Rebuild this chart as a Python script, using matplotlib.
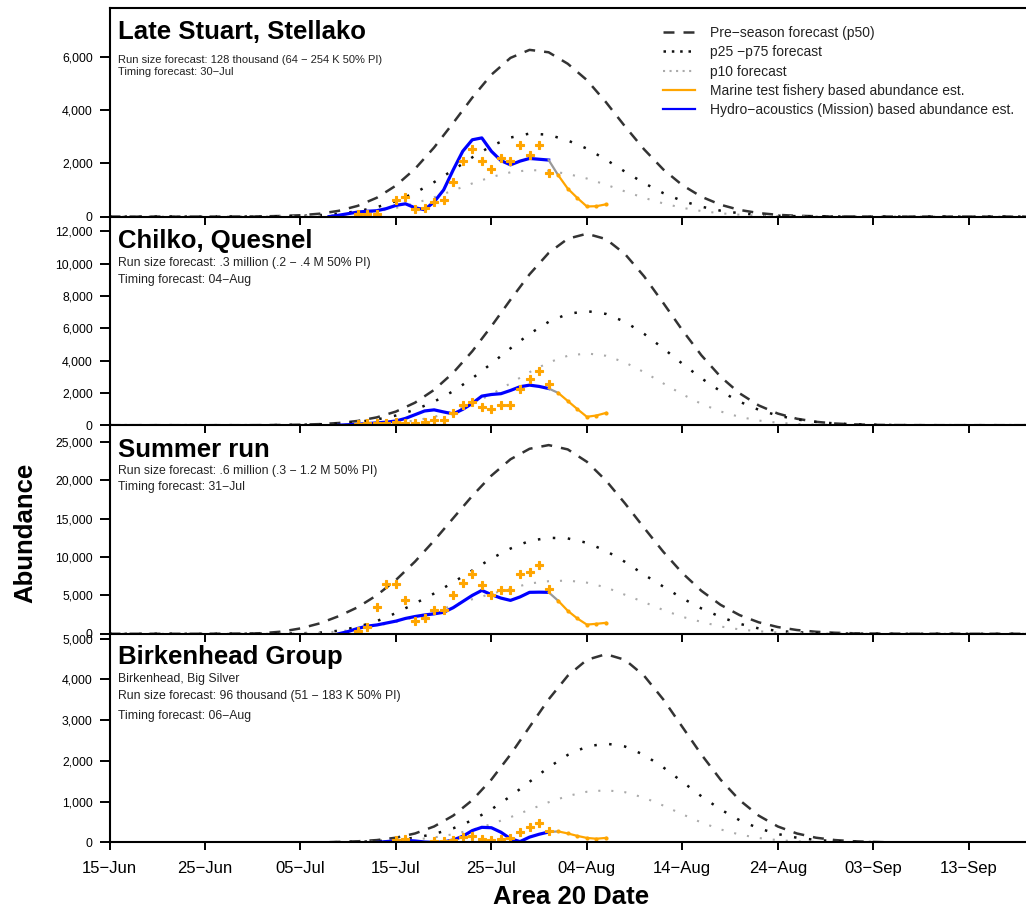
import matplotlib
matplotlib.use("Agg")
import matplotlib.pyplot as plt
from matplotlib.lines import Line2D
from matplotlib.ticker import FuncFormatter
import numpy as np

plt.rcParams['font.family'] = ['Liberation Sans', 'DejaVu Sans']
plt.rcParams['lines.scale_dashes'] = False

# x axis: days after 15-Jun
tick_days = [0, 10, 20, 30, 40, 50, 60, 70, 80, 90]
tick_labels = ["15\u2212Jun", "25\u2212Jun", "05\u2212Jul", "15\u2212Jul", "25\u2212Jul",
               "04\u2212Aug", "14\u2212Aug", "24\u2212Aug", "03\u2212Sep", "13\u2212Sep"]

# forecast curves, every 2 days from 15-Jun
fc_days = list(range(0, 97, 2))

# Late Stuart, Stellako
ls_p50 = [0, 0, 0, 0, 0, 0, 0, 3, 9, 23, 51, 108, 216, 403, 707, 1162, 1790, 2590, 3510, 4460,
          5320, 5950, 6250, 6160, 5730, 5120, 4290, 3380, 2520, 1770, 1180, 745, 445, 250, 132,
          66, 31, 14, 6, 2, 0, 0, 0, 0, 0, 0, 0, 0, 0]
ls_p25 = [0, 0, 0, 0, 0, 0, 0, 1, 4, 11, 25, 54, 108, 201, 352, 579, 891, 1290, 1748, 2221,
          2649, 2963, 3113, 3068, 2854, 2550, 2136, 1683, 1255, 881, 588, 371, 222, 125, 66,
          33, 15, 7, 3, 1, 0, 0, 0, 0, 0, 0, 0, 0, 0]
ls_p10 = [0, 0, 0, 0, 0, 0, 0, 1, 3, 6, 14, 30, 60, 112, 197, 324, 499, 723, 979, 1244,
          1484, 1660, 1744, 1719, 1599, 1428, 1197, 943, 703, 494, 329, 208, 124, 70, 37,
          18, 9, 4, 2, 1, 0, 0, 0, 0, 0, 0, 0, 0, 0]

# Chilko, Quesnel
cq_p50 = [0, 0, 0, 0, 0, 0, 0, 0, 6, 14, 31, 67, 136, 264, 485, 844, 1394, 2185, 3246, 4577,
          6122, 7764, 9340, 10660, 11540, 11850, 11520, 10590, 9210, 7570, 5885, 4325, 3004,
          1973, 1225, 720, 400, 210, 104, 49, 22, 9, 4, 0, 0, 0, 0, 0, 0]
cq_p25 = [0, 0, 0, 0, 0, 0, 0, 0, 0, 12, 27, 56, 109, 202, 356, 598, 955, 1454, 2105, 2903,
          3809, 4757, 5653, 6396, 6888, 7060, 6888, 6396, 5653, 4757, 3809, 2903, 2105, 1454,
          955, 598, 356, 202, 109, 56, 27, 12, 0, 0, 0, 0, 0, 0, 0]
cq_p10 = [0, 0, 0, 0, 0, 0, 0, 0, 0, 0, 0, 6, 15, 35, 75, 152, 289, 513, 851, 1320,
          1913, 2591, 3281, 3883, 4297, 4444, 4297, 3883, 3281, 2591, 1913, 1320, 851, 513,
          289, 152, 75, 35, 15, 6, 0, 0, 0, 0, 0, 0, 0, 0, 0]

# Summer run
sr_p50 = [0, 0, 0, 0, 0, 5, 15, 35, 80, 280, 700, 1350, 2290, 3457, 5020, 7004, 9400, 12130,
          15050, 17960, 20590, 22720, 24090, 24570, 24010, 22400, 19960, 16970, 13790, 10690,
          7915, 5595, 3777, 2433, 1497, 880, 493, 265, 136, 66, 31, 14, 6, 2, 0, 0, 0, 0, 0]
sr_p25 = [0, 0, 0, 0, 0, 0, 0, 5, 10, 20, 60, 150, 400, 900, 1650, 2700, 3950, 5250, 6700,
          8250, 9800, 11100, 12100, 12500, 12420, 11850, 10800, 9360, 7700, 6150, 4620, 3300,
          2200, 1300, 700, 380, 200, 100, 50, 20, 8, 0, 0, 0, 0, 0, 0, 0, 0]
sr_p10 = [0, 0, 0, 0, 0, 0, 0, 0, 0, 20, 50, 130, 300, 600, 1050, 1550, 2170, 2900, 3680,
          4500, 5200, 5900, 6550, 6850, 6930, 6660, 6040, 5080, 4120, 3100, 2210, 1550, 950,
          570, 330, 180, 90, 45, 20, 8, 0, 0, 0, 0, 0, 0, 0, 0, 0]

# Birkenhead Group
bh_p50 = [0, 0, 0, 0, 0, 0, 0, 0, 0, 0, 0, 0, 12, 27, 57, 115, 219, 391, 657, 1037, 1542,
          2156, 2835, 3511, 4090, 4481, 4620, 4481, 4090, 3511, 2835, 2156, 1542, 1037, 657,
          391, 219, 115, 57, 27, 12, 0, 0, 0, 0, 0, 0, 0, 0]
bh_p25 = [0, 0, 0, 0, 0, 0, 0, 0, 0, 0, 0, 0, 6, 14, 30, 60, 115, 205, 345, 544, 810,
          1132, 1488, 1843, 2147, 2353, 2426, 2353, 2147, 1843, 1488, 1132, 810, 544, 345,
          205, 115, 60, 30, 14, 6, 0, 0, 0, 0, 0, 0, 0, 0]
bh_p10 = [0, 0, 0, 0, 0, 0, 0, 0, 0, 0, 0, 0, 4, 10, 20, 38, 70, 122, 200, 309, 450,
          619, 804, 986, 1140, 1243, 1280, 1232, 1097, 905, 691, 488, 319, 193, 108,
          56, 27, 12, 5, 0, 0, 0, 0, 0, 0, 0, 0, 0, 0]

# hydro-acoustic (Mission) estimates, daily
ls_hydro_days = list(range(23, 47))
ls_hydro = [0, 50, 110, 170, 200, 220, 300, 420, 480, 330, 260, 550, 1000, 1750, 2450, 2880,
            2950, 2450, 2100, 1940, 2080, 2180, 2150, 2120]
cq_hydro_days = list(range(24, 47))
cq_hydro = [0, 30, 60, 100, 140, 190, 260, 420, 650, 880, 950, 820, 700, 980, 1350, 1800,
            1900, 1950, 2150, 2380, 2480, 2400, 2270]
sr_hydro_days = list(range(24, 47))
sr_hydro = [0, 300, 700, 1000, 1150, 1400, 1650, 2000, 2250, 2450, 2600, 2800, 3400, 4200,
            5000, 5650, 5100, 4650, 4350, 4800, 5400, 5420, 5400]
bh_hydro_days = list(range(28, 47))
bh_hydro = [0, 20, 40, 50, 35, 10, 0, 10, 60, 150, 290, 370, 360, 250, 90, 20, 130, 200, 255]

# marine test fishery line after the hydro series ends
mt_line_days = [47, 48, 49, 50, 51, 52]
ls_mt_line = [1550, 1050, 700, 380, 390, 460]
cq_mt_line = [2000, 1500, 1000, 520, 600, 760]
sr_mt_line = [4300, 3000, 2000, 1200, 1300, 1430]
bh_mt_line = [270, 220, 160, 110, 90, 110]

# marine test fishery based abundance points
mt_days = list(range(26, 47))
ls_mt = [100, 100, 100, np.nan, 620, 720, 270, 320, 530, 610, 1310, 2100, 2550, 2100, 1800,
         2200, 2080, 2700, 2300, 2700, 1640]
cq_mt = [80, 120, 150, 150, 180, 150, 150, 200, 300, 320, 760, 1240, 1440, 1100, 1030, 1240,
         1240, 2210, 2830, 3360, 2580]
sr_mt = [340, 860, 3550, 6500, 6420, 4430, 1730, 2080, 3160, 3160, 5050, 6610, 7780, 6350,
         5100, 5700, 5700, 7780, 8000, 8900, 5860]
bh_mt = [np.nan, np.nan, np.nan, np.nan, 50, 80, np.nan, np.nan, 25, 30, 65, 130, 150, 85,
         65, 85, 100, 245, 390, 475, 270]

titles = ["Late Stuart, Stellako", "Chilko, Quesnel", "Summer run", "Birkenhead Group"]
notes = [
    ["Run size forecast: 128 thousand (64 \u2212 254 K 50% PI)", "Timing forecast: 30\u2212Jul"],
    ["Run size forecast: .3 million (.2 \u2212 .4 M 50% PI)", "Timing forecast: 04\u2212Aug"],
    ["Run size forecast: .6 million (.3 \u2212 1.2 M 50% PI)", "Timing forecast: 31\u2212Jul"],
    ["Birkenhead, Big Silver", "Run size forecast: 96 thousand (51 \u2212 183 K 50% PI)",
     "Timing forecast: 06\u2212Aug"],
]
y_ticks = [[0, 2000, 4000, 6000],
           [0, 2000, 4000, 6000, 8000, 10000, 12000],
           [0, 5000, 10000, 15000, 20000, 25000],
           [0, 1000, 2000, 3000, 4000, 5000]]
y_max = [7820, 12910, 27160, 5120]

p50s = [ls_p50, cq_p50, sr_p50, bh_p50]
p25s = [ls_p25, cq_p25, sr_p25, bh_p25]
p10s = [ls_p10, cq_p10, sr_p10, bh_p10]
hydro_days = [ls_hydro_days, cq_hydro_days, sr_hydro_days, bh_hydro_days]
hydros = [ls_hydro, cq_hydro, sr_hydro, bh_hydro]
mt_lines = [ls_mt_line, cq_mt_line, sr_mt_line, bh_mt_line]
mts = [ls_mt, cq_mt, sr_mt, bh_mt]

# layout in pixels of the 1026x910 picture
W, H = 1026, 910
def fx(x):
    return x / W
def fy(y):
    return 1 - y / H

left_px = 109.5
top_px = 8
panel_h = 208.6
title_base = [39.3, 248.3, 456.7, 664.3]
note_y = [[60.0, 72.0], [263.3, 280.0], [470.7, 487.3], [679.0, 696.0, 716.0]]

ORANGE = '#ffa500'
BLUE = '#0000ff'

fig = plt.figure(figsize=(W / 100, H / 100), dpi=100)
fmt = FuncFormatter(lambda v, p: f"{v:,.0f}")

for i in range(4):
    bottom_px = top_px + panel_h * (i + 1)
    ax = fig.add_axes([fx(left_px), fy(bottom_px), 1 - fx(left_px), panel_h / H])

    ax.plot(fc_days, p50s[i], color='#333333', lw=1.8, linestyle=(0, (7.9, 6.5)))
    ax.plot(fc_days, p25s[i], color='#111111', lw=1.8, linestyle=(0, (1.8, 9.0)))
    ax.plot(fc_days, p10s[i], color='#aaaaaa', lw=1.5, linestyle=(0, (1.5, 7.9)))

    ax.plot(hydro_days[i], hydros[i], color=BLUE, lw=2.3, solid_joinstyle='round')
    ax.plot([hydro_days[i][-1], mt_line_days[0]], [hydros[i][-1], mt_lines[i][0]],
            color='#999999', lw=1.6)
    ax.plot(mt_line_days, mt_lines[i], color=ORANGE, lw=1.6, marker='o', ms=3, mew=0)
    ax.plot(mt_days, mts[i], linestyle='none', marker='P', ms=6, color=ORANGE,
            mec=ORANGE, mew=0.8)

    ax.set_xlim(0, 96)
    ax.set_ylim(0, y_max[i])
    ax.set_xticks(tick_days)
    ax.set_yticks(y_ticks[i])
    ax.yaxis.set_major_formatter(fmt)
    ax.spines['right'].set_visible(False)
    if i > 0:
        ax.spines['top'].set_visible(False)
    for s in ['left', 'bottom', 'top']:
        ax.spines[s].set_linewidth(1.5)
    ax.tick_params(axis='y', direction='out', length=7, width=1.4, labelsize=8.8, pad=5)
    ax.tick_params(axis='x', direction='out', length=5.5, width=1.4, labelsize=12, pad=8)
    if i < 3:
        ax.tick_params(axis='x', labelbottom=False)
    else:
        ax.set_xticklabels(tick_labels)
    ax.patch.set_alpha(0)

    fig.text(fx(118), fy(title_base[i]), titles[i], fontsize=18.5, fontweight='bold',
             va='baseline', ha='left')
    note_size = 8.0 if i == 0 else 8.8
    for txt, yy in zip(notes[i], note_y[i]):
        fig.text(fx(118), fy(yy), txt, fontsize=note_size, va='center', ha='left',
                 color='#222222')

    if i == 0:
        handles = [
            Line2D([], [], color='#333333', lw=1.8, linestyle=(0, (7.9, 6.5))),
            Line2D([], [], color='#111111', lw=1.8, linestyle=(0, (1.8, 4.2))),
            Line2D([], [], color='#aaaaaa', lw=1.5, linestyle=(0, (1.5, 3.2))),
            Line2D([], [], color=ORANGE, lw=1.6),
            Line2D([], [], color=BLUE, lw=1.6),
        ]
        labels = ["Pre\u2212season forecast (p50)", "p25 \u2212p75 forecast", "p10 forecast",
                  "Marine test fishery based abundance est.",
                  "Hydro\u2212acoustics (Mission) based abundance est."]
        ax.legend(handles, labels, loc='upper left', bbox_to_anchor=(fx(663), fy(26)),
                  bbox_transform=fig.transFigure, frameon=False, fontsize=10,
                  handlelength=2.3, handletextpad=1.08, labelspacing=0.38, borderpad=0,
                  borderaxespad=0, labelcolor='#222222')

fig.text(fx(25), fy(533), "Abundance", rotation=90, fontsize=18.5, fontweight='bold',
         ha='center', va='center')
fig.text(fx(571), fy(904), "Area 20 Date", fontsize=18.5, fontweight='bold',
         ha='center', va='baseline')

fig.savefig("out.png", dpi=100)
